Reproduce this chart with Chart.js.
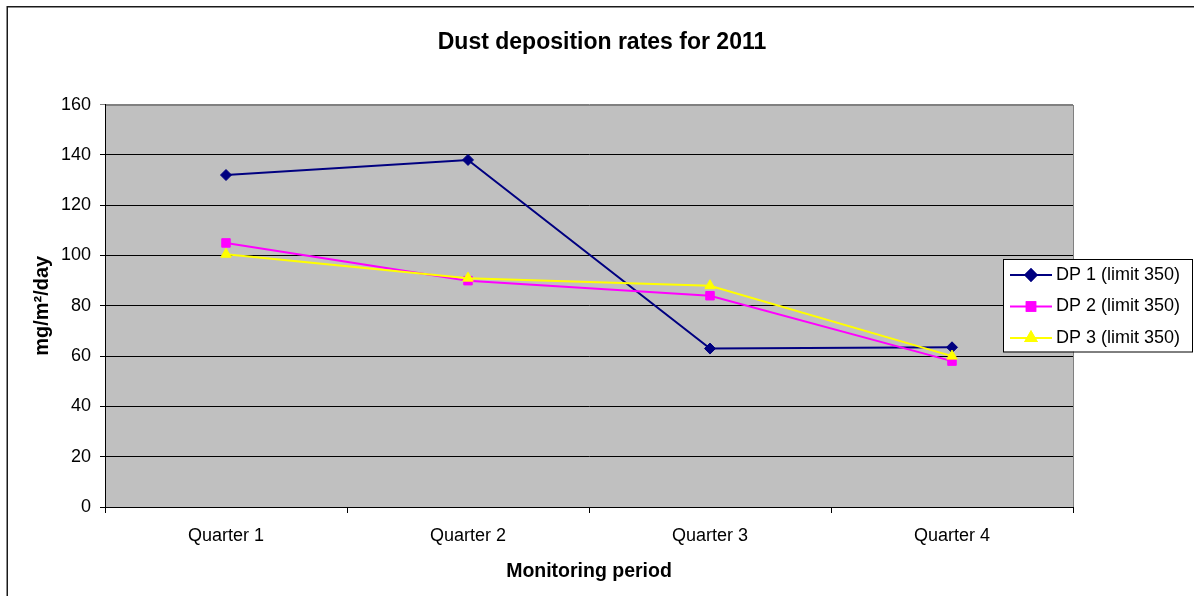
<!DOCTYPE html>
<html>
<head>
<meta charset="utf-8">
<title>Dust deposition rates for 2011</title>
<script src="https://cdn.jsdelivr.net/npm/chart.js@4/dist/chart.umd.min.js"></script>
<style>
  html, body { margin: 0; padding: 0; background: #fff; }
  #wrap { width: 1194px; height: 596px; }
</style>
</head>
<body>
<div id="wrap"><canvas id="c" width="1194" height="596"></canvas></div>
<script>
// Monitoring periods and quarterly dust deposition (mg/m²/day)
const quarters = ['Quarter 1', 'Quarter 2', 'Quarter 3', 'Quarter 4'];
const dp1 = [132, 138, 63, 63.5];
const dp2 = [105, 90, 84, 58];
const dp3 = [100.5, 91, 88, 60];
const seriesNames = ['DP 1 (limit 350)', 'DP 2 (limit 350)', 'DP 3 (limit 350)'];
const yTicks = { min: 0, max: 160, step: 20 };

const FONT = '"Liberation Sans", Arial, Helvetica, sans-serif';
Chart.defaults.font.family = FONT;
Chart.defaults.color = '#000';

// White page, outer frame and grey plot area
const backdrop = {
  id: 'backdrop',
  beforeDraw(chart) {
    const { ctx, chartArea: a } = chart;
    ctx.save();
    ctx.fillStyle = '#fff';
    ctx.fillRect(0, 0, chart.width, chart.height);
    ctx.strokeStyle = '#1a1a1a';
    ctx.lineWidth = 1.5;
    ctx.strokeRect(7.25, 6.75, chart.width + 20, chart.height + 20);
    ctx.fillStyle = '#c0c0c0';
    ctx.fillRect(a.left, a.top, a.right - a.left, a.bottom - a.top);
    ctx.strokeStyle = '#808080';
    ctx.lineWidth = 1;
    ctx.strokeRect(Math.round(a.left) + 0.5, Math.round(a.top) + 0.5,
                   Math.round(a.right - a.left), Math.round(a.bottom - a.top));
    ctx.restore();
  }
};

// Boxed legend overlapping the right edge of the plot: line sample, marker, label
const boxLegend = {
  id: 'boxLegend',
  afterDraw(chart) {
    const { ctx, chartArea: a } = chart;
    const x0 = a.right - 70, y0 = 259, w = 189, rowH = 31.5;
    const h = rowH * chart.data.datasets.length - 2;
    ctx.save();
    ctx.fillStyle = '#fff';
    ctx.fillRect(x0, y0, w, h);
    ctx.strokeStyle = '#000';
    ctx.lineWidth = 1;
    ctx.strokeRect(x0 + 0.5, y0 + 0.5, w, h);
    chart.data.datasets.forEach((ds, i) => {
      const cy = y0 + 16 + i * rowH;
      ctx.strokeStyle = ds.borderColor;
      ctx.lineWidth = ds.borderWidth;
      ctx.beginPath();
      ctx.moveTo(x0 + 7, cy);
      ctx.lineTo(x0 + 49, cy);
      ctx.stroke();
      Chart.helpers.drawPoint(ctx, {
        pointStyle: ds.pointStyle,
        radius: ds.pointRadius,
        borderWidth: 1,
        rotation: 0
      }, x0 + 28, cy);
      ctx.fillStyle = ds.pointBackgroundColor;
      ctx.strokeStyle = ds.pointBorderColor;
      ctx.fill();
      ctx.stroke();
      ctx.fillStyle = '#000';
      ctx.font = '18px ' + FONT;
      ctx.textAlign = 'left';
      ctx.textBaseline = 'middle';
      ctx.fillText(ds.label, x0 + 53, cy);
    });
    ctx.restore();
  }
};

function series(label, data, color, style, radius, order) {
  return {
    label, data, order,
    borderColor: color,
    borderWidth: 2,
    pointStyle: style,
    pointRadius: radius,
    pointHoverRadius: radius,
    pointBackgroundColor: color,
    pointBorderColor: color,
    pointBorderWidth: 1,
    tension: 0,
    fill: false
  };
}

new Chart(document.getElementById('c'), {
  type: 'line',
  data: {
    labels: quarters,
    datasets: [
      series(seriesNames[0], dp1, '#000080', 'rectRot', 5.5, 3),
      series(seriesNames[1], dp2, '#ff00ff', 'rect', 6, 2),
      series(seriesNames[2], dp3, '#ffff00', 'triangle', 6, 1)
    ]
  },
  options: {
    responsive: false,
    animation: false,
    events: [],
    layout: { padding: { left: 10, right: 0, top: 0, bottom: 0 } },
    plugins: {
      legend: { display: false },
      tooltip: { enabled: false },
      title: {
        display: true,
        text: 'Dust deposition rates for 2011',
        font: { size: 23, weight: 'bold' },
        color: '#000',
        padding: { top: 29, bottom: 48 }
      }
    },
    scales: {
      x: {
        offset: true,
        grid: {
          offset: true,
          drawOnChartArea: false,
          drawTicks: true,
          tickLength: 6,
          color: '#000'
        },
        border: { display: true, color: '#000', width: 1 },
        ticks: { font: { size: 18 }, color: '#000', padding: 12, maxRotation: 0 },
        title: {
          display: true,
          text: 'Monitoring period',
          font: { size: 19.5, weight: 'bold' },
          color: '#000',
          padding: { top: 0, bottom: 13 }
        },
        afterFit(s) { s.height = 89; }
      },
      y: {
        min: yTicks.min,
        max: yTicks.max,
        grid: {
          color: c => (c.tick && c.tick.value === yTicks.max ? '#808080' : '#000'),
          lineWidth: 1,
          drawTicks: true,
          tickLength: 5
        },
        border: { display: true, color: '#000', width: 1 },
        ticks: { stepSize: yTicks.step, font: { size: 18 }, color: '#000', padding: 9 },
        title: {
          display: true,
          text: 'mg/m²/day',
          font: { size: 20, weight: 'bold' },
          color: '#000',
          padding: { top: 20, bottom: 0 }
        },
        afterFit(s) { s.width = 95; }
      },
      gutter: {
        position: 'right',
        display: true,
        grid: { display: false, drawTicks: false },
        border: { display: false },
        ticks: { display: false },
        afterFit(s) { s.width = 121; }
      }
    }
  },
  plugins: [backdrop, boxLegend]
});
</script>
</body>
</html>
